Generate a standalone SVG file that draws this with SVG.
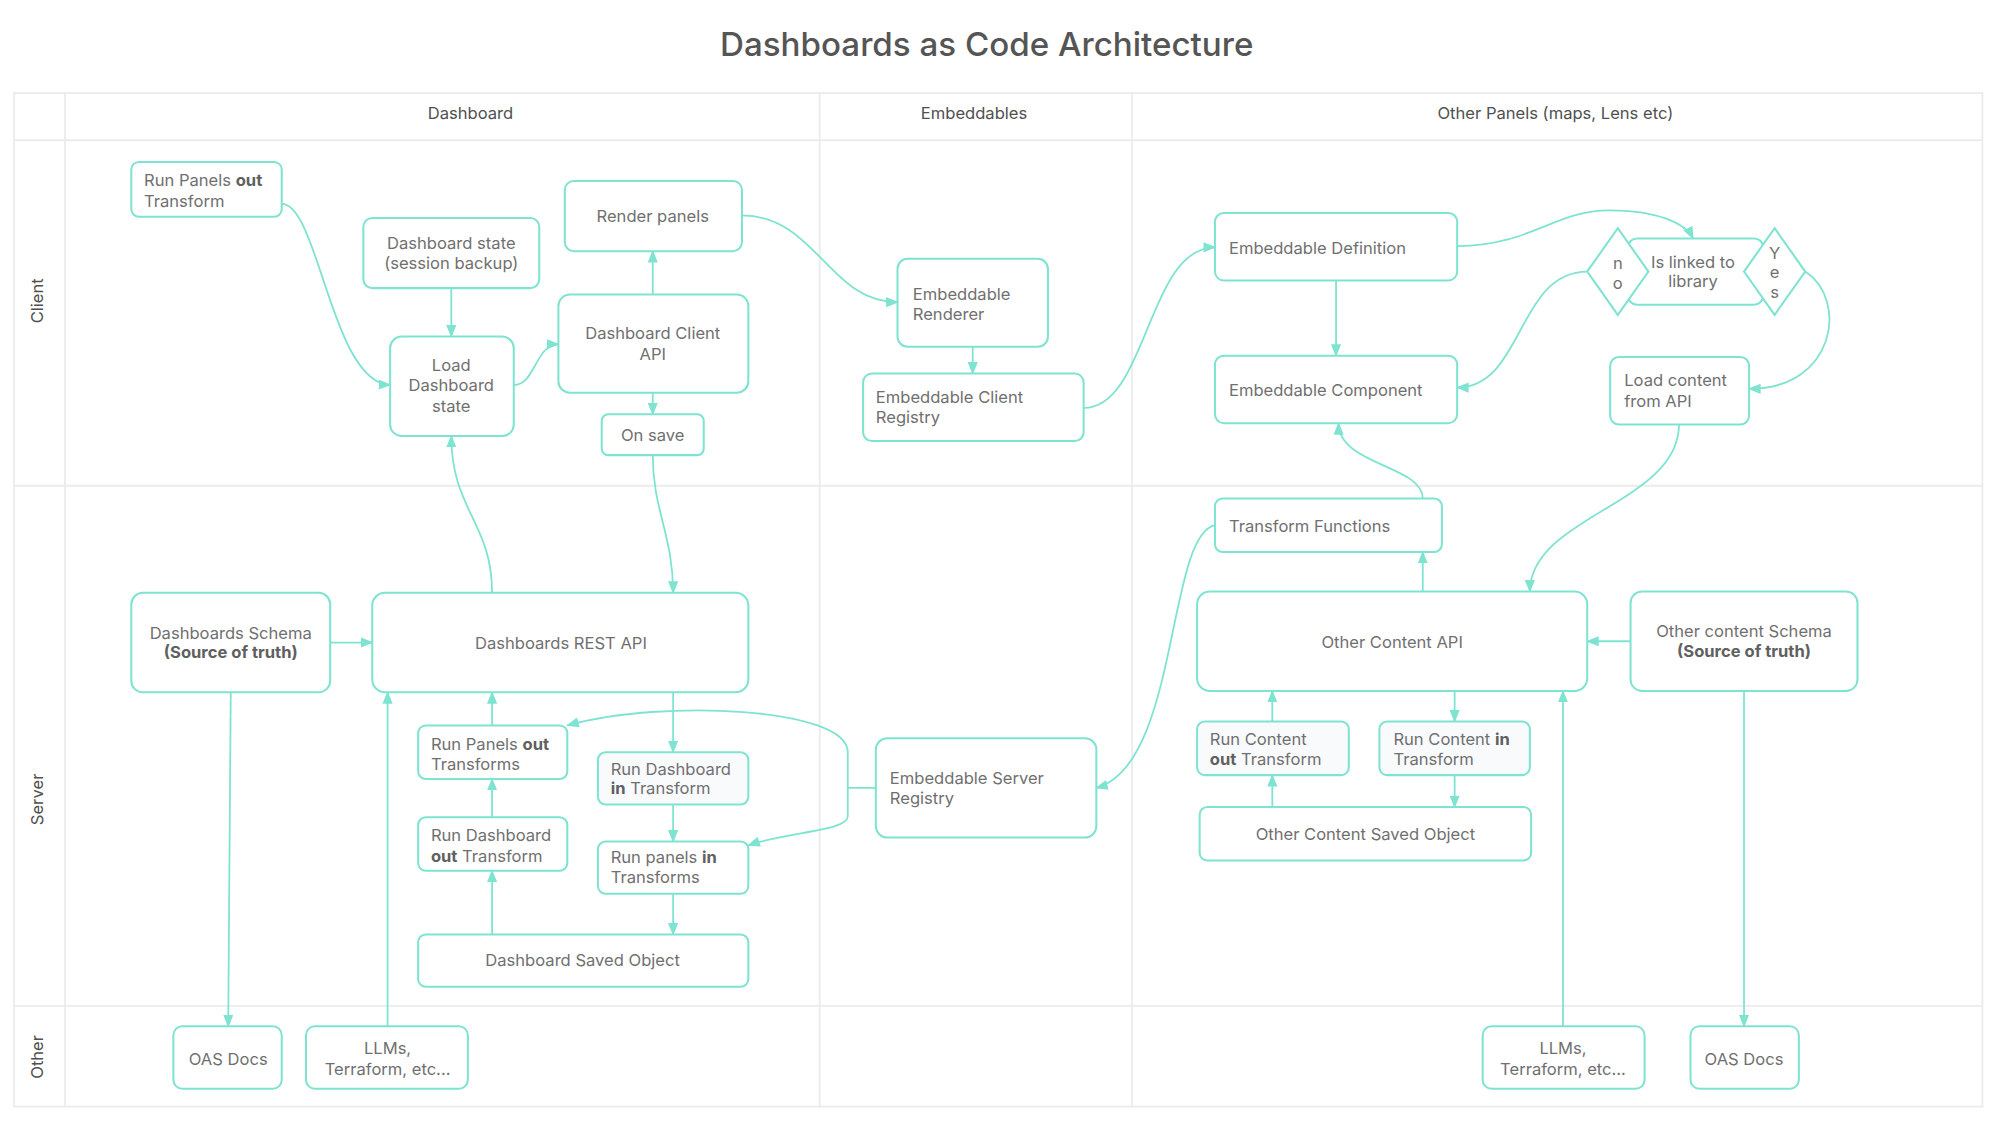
<svg xmlns="http://www.w3.org/2000/svg" width="1999" height="1124" viewBox="0 0 1999 1124">
<style>
.n{fill:#fff;stroke:#7ee3d0;stroke-width:1.6}
.l{fill:#f8fafc}
.t{font-family:Inter,"Liberation Sans",sans-serif;font-size:13px;fill:#707070}
.c{text-anchor:middle}
.b{font-weight:700;fill:#606060}
.h{font-family:Inter,"Liberation Sans",sans-serif;font-size:13px;fill:#505050;text-anchor:middle}
.e{fill:none;stroke:#7ee3d0;stroke-width:1.4;marker-end:url(#a)}
.g{fill:none;stroke:#ececec;stroke-width:1.5}
</style>
<defs>
<marker id="a" markerUnits="userSpaceOnUse" markerWidth="12" markerHeight="10" refX="9" refY="4" orient="auto"><path d="M0,0 L10,4 L0,8 Z" fill="#7ee3d0"/></marker>
</defs>
<rect width="1999" height="1124" fill="#fff"/>
<g transform="scale(1.27487)">
<text x="774" y="44" text-anchor="middle" font-family="Inter,'Liberation Sans',sans-serif" font-size="26" font-weight="500" fill="#555">Dashboards as Code Architecture</text>
<g id="grid">
<rect x="11" y="73" width="1544" height="795" class="g"/>
<path class="g" d="M11,110 H1555 M11,381 H1555 M11,789 H1555 M51,73 V868 M643,73 V868 M888,73 V868"/>
<text x="369" y="93" class="h">Dashboard</text>
<text x="764" y="93" class="h">Embeddables</text>
<text x="1220" y="93" class="h">Other Panels (maps, Lens etc)</text>
<text transform="translate(34,236) rotate(-90)" class="h">Client</text>
<text transform="translate(34,627) rotate(-90)" class="h">Server</text>
<text transform="translate(34,829) rotate(-90)" class="h">Other</text>
</g>
<g id="connectors">
<path class="e" d="M221,160 C250,160 260,300 306,302"/>
<path class="e" d="M354,226 V264"/>
<path class="e" d="M403,302 C420,302 420,270 438,270"/>
<path class="e" d="M512,231 V197"/>
<path class="e" d="M512,308 V325"/>
<path class="e" d="M582,169 C640,169 650,237 704,237"/>
<path class="e" d="M763,272 V293"/>
<path class="e" d="M850,320 C900,320 900,194 953,194"/>
<path class="e" d="M1048,220 V279"/>
<path class="e" d="M1143,193 C1200,193 1220,165 1262,165 C1300,165 1322,175 1328,187"/>
<path class="e" d="M1245,213 C1190,213 1195,304 1143,304"/>
<path class="e" d="M1416,213 C1450,235 1440,305 1372,305"/>
<path class="e" d="M1317,333 C1317,395 1200,405 1200,464"/>
<path class="e" d="M1116,391 C1116,365 1050,365 1050,332"/>
<path class="e" d="M1116,464 V433"/>
<path class="e" d="M953,412 C915,420 925,600 860,618"/>
<path class="e" d="M512,357 C512,400 528,420 528,465"/>
<path class="e" d="M386,465 C386,410 354,400 354,342"/>
<path class="e" d="M259,504 H292"/>
<path class="e" d="M181,543 L179,805"/>
<path class="e" d="M304,805 V543"/>
<path class="e" d="M386,569 V543"/>
<path class="e" d="M386,641 V611"/>
<path class="e" d="M386,733 V683"/>
<path class="e" d="M528,543 V590"/>
<path class="e" d="M528,631 V660"/>
<path class="e" d="M528,701 V733"/>
<path class="e" d="M687,618 H665 V590 C665,555 520,548 445,569"/>
<path class="e" d="M665,618 V640 C665,652 620,652 587,663"/>
<path class="e" d="M998,566 V542"/>
<path class="e" d="M998,633 V608"/>
<path class="e" d="M1141,542 V566"/>
<path class="e" d="M1141,608 V633"/>
<path class="e" d="M1279,503 H1245"/>
<path class="e" d="M1226,805 V542"/>
<path class="e" d="M1368,542 V805"/>
</g>
<g id="n1"><rect class="n" x="103" y="127" width="118" height="43" rx="6"/><text class="t" x="113" y="146">Run Panels <tspan class="b">out</tspan></text><text class="t" x="113" y="162">Transform</text></g>
<g id="n2"><rect class="n" x="285" y="171" width="138" height="55" rx="7"/><text class="t c" x="354" y="195">Dashboard state</text><text class="t c" x="354" y="211">(session backup)</text></g>
<g id="n3"><rect class="n" x="443" y="142" width="139" height="55" rx="7"/><text class="t c" x="512" y="174">Render panels</text></g>
<g id="n4"><rect class="n" x="306" y="264" width="97" height="78" rx="9"/><text class="t c" x="354" y="291">Load</text><text class="t c" x="354" y="307">Dashboard</text><text class="t c" x="354" y="323">state</text></g>
<g id="n5"><rect class="n" x="438" y="231" width="149" height="77" rx="9"/><text class="t c" x="512" y="266">Dashboard Client</text><text class="t c" x="512" y="282">API</text></g>
<g id="n6"><rect class="n" x="472" y="325" width="80" height="32" rx="5"/><text class="t c" x="512" y="346">On save</text></g>
<g id="n7"><rect class="n" x="704" y="203" width="118" height="69" rx="8"/><text class="t" x="716" y="235">Embeddable</text><text class="t" x="716" y="251">Renderer</text></g>
<g id="n8"><rect class="n" x="677" y="293" width="173" height="53" rx="7"/><text class="t" x="687" y="316">Embeddable Client</text><text class="t" x="687" y="332">Registry</text></g>
<g id="n9"><rect class="n" x="953" y="167" width="190" height="53" rx="7"/><text class="t" x="964" y="199">Embeddable Definition</text></g>
<g id="n10"><rect class="n" x="1277" y="187" width="106" height="52" rx="7"/><text class="t c" x="1328" y="210">Is linked to</text><text class="t c" x="1328" y="225">library</text></g>
<g id="n11"><path class="n" d="M1269,179 L1293,213 L1269,247 L1245,213 Z"/><text class="t c" x="1269" y="211">n</text><text class="t c" x="1269" y="227">o</text></g>
<g id="n12"><path class="n" d="M1392,179 L1416,213 L1392,247 L1368,213 Z"/><text class="t c" x="1392" y="203">Y</text><text class="t c" x="1392" y="218">e</text><text class="t c" x="1392" y="234">s</text></g>
<g id="n13"><rect class="n" x="953" y="279" width="190" height="53" rx="7"/><text class="t" x="964" y="311">Embeddable Component</text></g>
<g id="n14"><rect class="n" x="1263" y="280" width="109" height="53" rx="7"/><text class="t" x="1274" y="303">Load content</text><text class="t" x="1274" y="319">from API</text></g>
<g id="n15"><rect class="n" x="953" y="391" width="178" height="42" rx="6"/><text class="t" x="964" y="417">Transform Functions</text></g>
<g id="n16"><rect class="n" x="103" y="465" width="156" height="78" rx="9"/><text class="t c" x="181" y="501">Dashboards Schema</text><text class="t c b" x="181" y="516">(Source of truth)</text></g>
<g id="n17"><rect class="n" x="292" y="465" width="295" height="78" rx="10"/><text class="t c" x="440" y="509">Dashboards REST API</text></g>
<g id="n18"><rect class="n" x="328" y="569" width="117" height="42" rx="6"/><text class="t" x="338" y="588">Run Panels <tspan class="b">out</tspan></text><text class="t" x="338" y="604">Transforms</text></g>
<g id="n19"><rect class="n l" x="469" y="590" width="118" height="41" rx="6"/><text class="t" x="479" y="608">Run Dashboard</text><text class="t" x="479" y="623"><tspan class="b">in</tspan> Transform</text></g>
<g id="n20"><rect class="n" x="328" y="641" width="117" height="42" rx="6"/><text class="t" x="338" y="660">Run Dashboard</text><text class="t" x="338" y="676"><tspan class="b">out</tspan> Transform</text></g>
<g id="n21"><rect class="n" x="469" y="660" width="118" height="41" rx="6"/><text class="t" x="479" y="677">Run panels <tspan class="b">in</tspan></text><text class="t" x="479" y="693">Transforms</text></g>
<g id="n22"><rect class="n" x="328" y="733" width="259" height="41" rx="6"/><text class="t c" x="457" y="758">Dashboard Saved Object</text></g>
<g id="n23"><rect class="n" x="687" y="579" width="173" height="78" rx="9"/><text class="t" x="698" y="615">Embeddable Server</text><text class="t" x="698" y="631">Registry</text></g>
<g id="n24"><rect class="n" x="939" y="464" width="306" height="78" rx="10"/><text class="t c" x="1092" y="508">Other Content API</text></g>
<g id="n25"><rect class="n" x="1279" y="464" width="178" height="78" rx="9"/><text class="t c" x="1368" y="500">Other content Schema</text><text class="t c b" x="1368" y="515">(Source of truth)</text></g>
<g id="n26"><rect class="n l" x="939" y="566" width="119" height="42" rx="6"/><text class="t" x="949" y="584">Run Content</text><text class="t" x="949" y="600"><tspan class="b">out</tspan> Transform</text></g>
<g id="n27"><rect class="n l" x="1082" y="566" width="118" height="42" rx="6"/><text class="t" x="1093" y="584">Run Content <tspan class="b">in</tspan></text><text class="t" x="1093" y="600">Transform</text></g>
<g id="n28"><rect class="n" x="941" y="633" width="260" height="42" rx="6"/><text class="t c" x="1071" y="659">Other Content Saved Object</text></g>
<g id="n29"><rect class="n" x="136" y="805" width="85" height="49" rx="7"/><text class="t c" x="179" y="835">OAS Docs</text></g>
<g id="n30"><rect class="n" x="240" y="805" width="127" height="49" rx="7"/><text class="t c" x="304" y="827">LLMs,</text><text class="t c" x="304" y="843">Terraform, etc...</text></g>
<g id="n31"><rect class="n" x="1163" y="805" width="127" height="49" rx="7"/><text class="t c" x="1226" y="827">LLMs,</text><text class="t c" x="1226" y="843">Terraform, etc...</text></g>
<g id="n32"><rect class="n" x="1326" y="805" width="85" height="49" rx="7"/><text class="t c" x="1368" y="835">OAS Docs</text></g>
</g>
</svg>
